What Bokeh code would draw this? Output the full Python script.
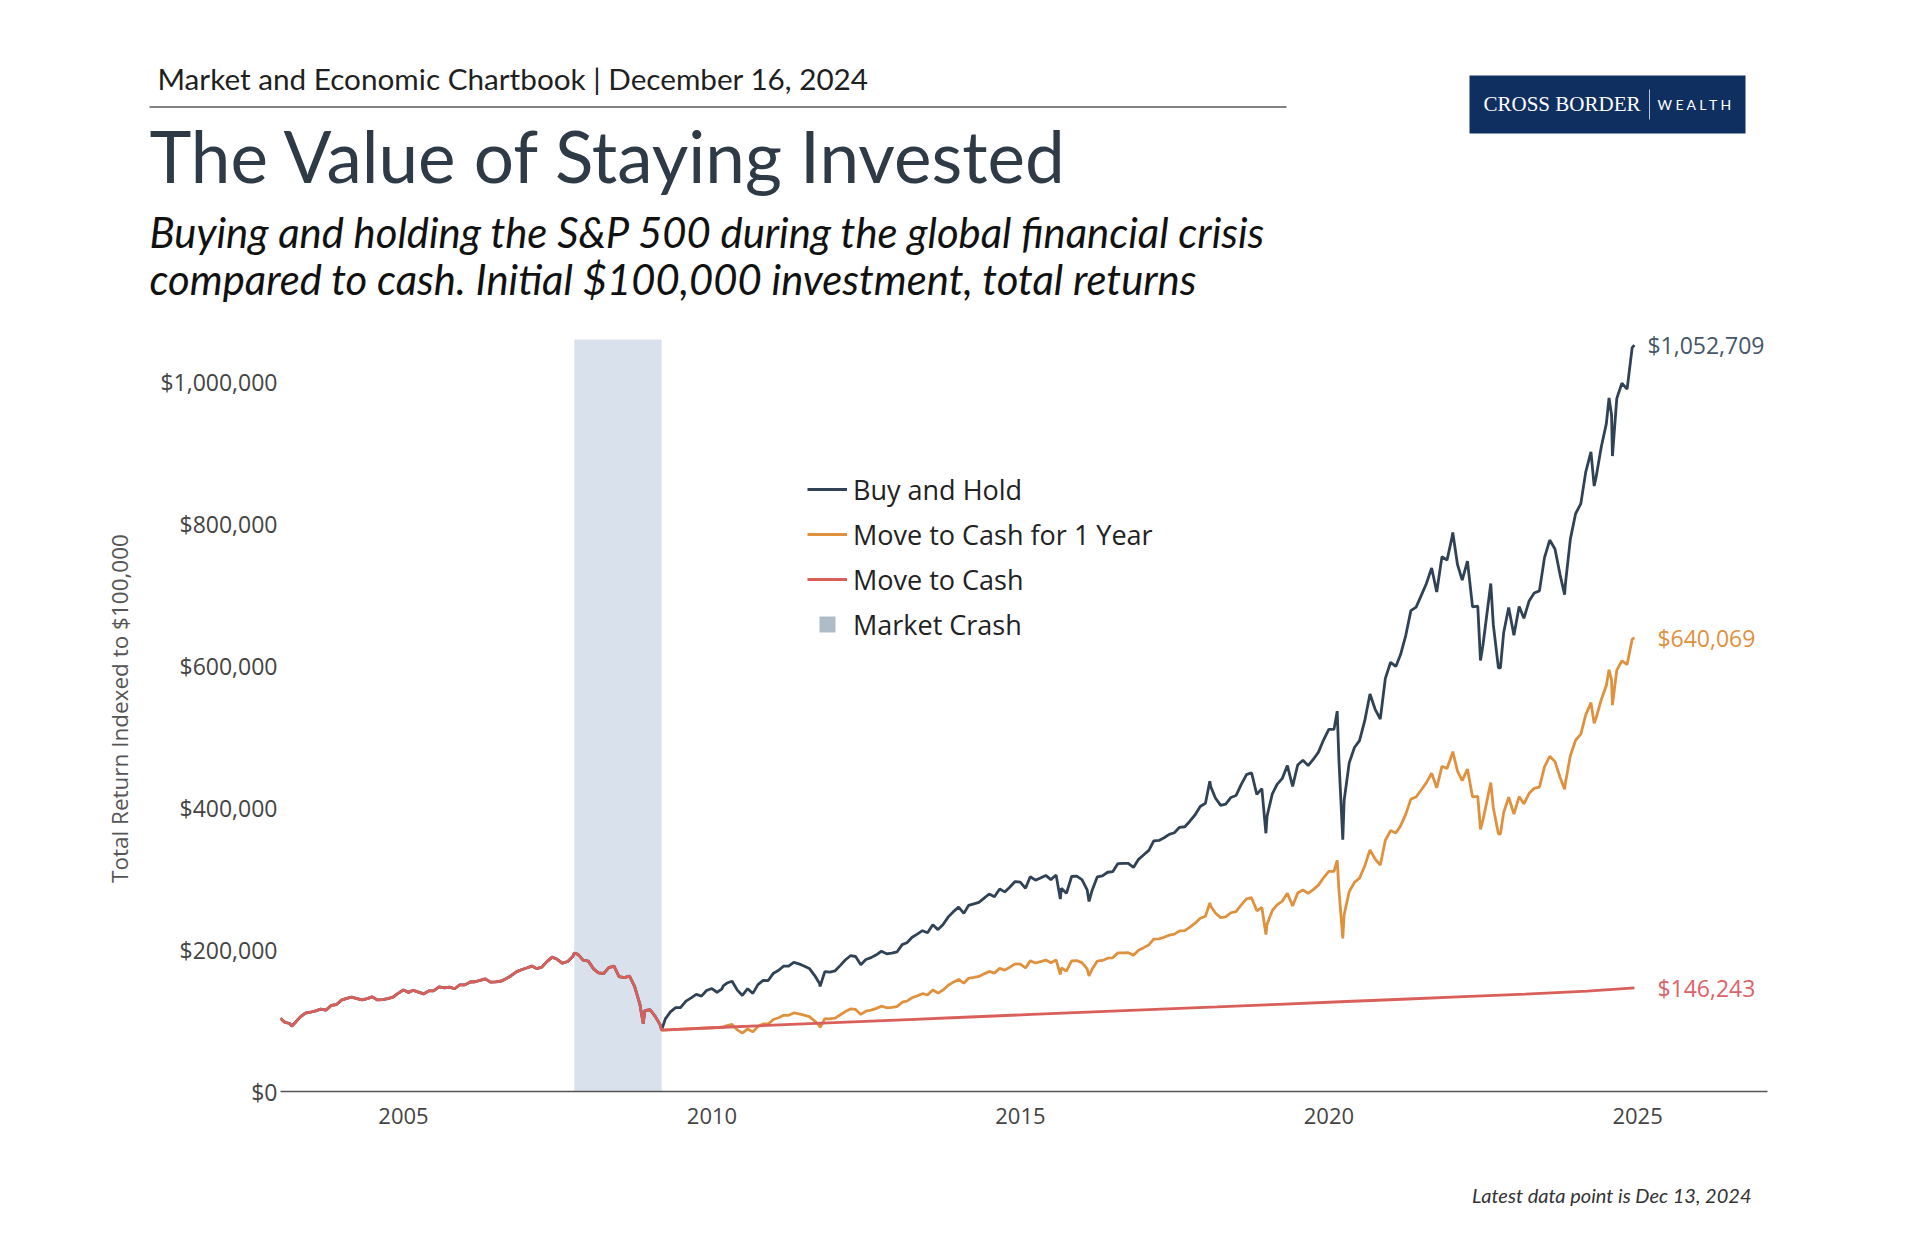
import pandas as pd
from bokeh.plotting import figure
from bokeh.layouts import column
from bokeh.models import (Range1d, FixedTicker, DatetimeTickFormatter, BoxAnnotation,
                          Legend, LegendItem, ColumnDataSource, LabelSet)
from bokeh.core.properties import value
from bokeh.embed import file_html
from bokeh.resources import INLINE

# ---------------- data (values in $ thousands) ----------------
# Buy and Hold: month-end values Jan 2003 .. Nov 2024
buy_hold_monthly = [
    97.4, 95.9, 96.9, 104.9, 110.4, 111.8, 113.8, 116.1, 114.8, 121.4, 122.4, 128.8,   # 2003
    131.3, 133.1, 131.1, 129.1, 130.9, 133.5, 129.1, 129.6, 131.0, 133.1, 138.4, 143.2,  # 2004
    139.8, 142.7, 140.2, 137.6, 141.9, 142.1, 147.5, 146.0, 147.3, 144.9, 150.3, 150.4,  # 2005
    154.4, 154.8, 156.7, 158.9, 154.2, 154.5, 155.5, 159.1, 163.3, 168.7, 171.7, 174.2,  # 2006
    176.9, 173.3, 175.4, 183.2, 189.5, 186.4, 180.8, 183.4, 190.3, 193.4, 185.2, 183.9,  # 2007
    172.9, 167.2, 166.4, 174.6, 176.8, 161.9, 160.5, 162.7, 148.2, 123.3, 114.2, 115.3,  # 2008
    105.6, 94.2, 102.4, 112.2, 118.3, 118.5, 127.5, 132.0, 136.9, 134.5, 142.4, 145.2,   # 2009
    140.0, 144.3, 153.0, 155.5, 143.0, 135.5, 145.0, 138.4, 150.7, 156.6, 156.5, 166.9,  # 2010
    171.0, 176.7, 176.8, 182.2, 180.0, 177.0, 173.5, 163.9, 152.4, 169.1, 168.5, 170.2,  # 2011
    177.9, 185.4, 191.5, 190.4, 178.8, 186.2, 188.8, 192.8, 197.8, 194.2, 195.1, 196.8,  # 2012
    207.1, 209.7, 217.6, 221.9, 226.8, 223.8, 235.3, 228.3, 235.4, 246.3, 253.6, 260.0,  # 2013
    251.2, 262.5, 264.7, 266.8, 272.8, 278.5, 274.7, 285.5, 281.5, 288.5, 296.1, 295.3,  # 2014
    286.6, 302.9, 298.1, 301.1, 304.8, 298.8, 305.3, 286.6, 279.5, 303.2, 303.8, 298.9,  # 2015
    284.2, 283.5, 302.7, 304.0, 309.2, 310.0, 321.5, 321.7, 321.8, 316.0, 327.4, 333.8,  # 2016
    340.4, 353.6, 354.1, 357.9, 362.6, 364.9, 372.6, 373.4, 381.2, 390.3, 401.9, 406.5,  # 2017
    430.1, 414.0, 403.5, 405.3, 414.7, 417.4, 433.1, 446.9, 449.6, 419.0, 427.2, 388.6,  # 2018
    419.9, 433.1, 441.6, 459.7, 430.2, 460.5, 467.3, 459.6, 468.3, 478.6, 495.7, 510.7,  # 2019
    510.7, 468.5, 410.5, 463.4, 485.1, 494.9, 523.0, 560.5, 539.4, 525.3, 582.7, 605.3,  # 2020
    599.5, 616.2, 643.4, 678.2, 683.1, 699.4, 716.4, 738.4, 704.4, 754.3, 749.3, 783.2,  # 2021
    743.2, 721.1, 748.1, 683.4, 684.5, 628.1, 686.5, 658.4, 597.9, 646.6, 682.5, 643.3,  # 2022
    684.1, 667.3, 691.8, 703.1, 706.0, 752.9, 777.7, 765.1, 729.0, 714.1, 779.0, 814.8,  # 2023
    829.1, 873.5, 902.0, 865.8, 908.9, 941.9, 954.1, 977.5, 998.8, 990.5, 1049.0,        # 2024
]
buy_hold_extra_dates = ["2003-01-02", "2003-03-11", "2007-10-09", "2008-11-20", "2009-03-09",
                        "2010-03-09", "2011-10-03", "2015-08-25", "2016-02-11", "2018-01-26",
                        "2018-12-24", "2020-02-19", "2020-03-23", "2022-01-03", "2022-06-16",
                        "2022-08-16", "2022-10-12", "2023-10-27", "2024-04-19", "2024-07-16",
                        "2024-08-05", "2024-12-13"]
buy_hold_extra_values = [103.3, 92.0, 195.1, 95.9, 86.7,
                         149.0, 148.2, 271.4, 268.1, 437.5,
                         364.2, 536.4, 355.1, 788.3, 607.9,
                         716.4, 597.0, 700.8, 853.9, 978.2,
                         896.2, 1052.709]

# Move to Cash for 1 Year: month-end values Mar 2010 .. Nov 2024 (after re-entering the market)
one_year_monthly = [
    93.0, 94.5, 86.9, 82.4, 88.2, 84.1, 91.6, 95.2, 95.2, 101.5,                          # 2010
    104.0, 107.4, 107.5, 110.8, 109.4, 107.6, 105.5, 99.7, 92.7, 102.8, 102.4, 103.5,     # 2011
    108.2, 112.7, 116.4, 115.8, 108.7, 113.2, 114.8, 117.2, 120.3, 118.1, 118.6, 119.7,   # 2012
    125.9, 127.5, 132.3, 134.9, 137.9, 136.1, 143.1, 138.8, 143.1, 149.8, 154.2, 158.1,   # 2013
    152.7, 159.6, 160.9, 162.2, 165.9, 169.3, 167.0, 173.6, 171.2, 175.4, 180.0, 179.5,   # 2014
    174.3, 184.2, 181.2, 183.1, 185.3, 181.7, 185.6, 174.3, 169.9, 184.3, 184.7, 181.7,   # 2015
    172.8, 172.4, 184.0, 184.8, 188.0, 188.5, 195.5, 195.6, 195.7, 192.1, 199.1, 202.9,   # 2016
    207.0, 215.0, 215.3, 217.6, 220.5, 221.9, 226.5, 227.0, 231.8, 237.3, 244.4, 247.2,   # 2017
    261.5, 251.7, 245.3, 246.4, 252.1, 253.8, 263.3, 271.7, 273.4, 254.8, 259.7, 236.3,   # 2018
    255.3, 263.3, 268.5, 279.5, 261.6, 280.0, 284.1, 279.4, 284.7, 291.0, 301.4, 310.5,   # 2019
    310.5, 284.8, 249.6, 281.7, 294.9, 300.9, 318.0, 340.8, 328.0, 319.4, 354.3, 368.0,   # 2020
    364.5, 374.6, 391.2, 412.3, 415.3, 425.2, 435.6, 448.9, 428.3, 458.6, 455.6, 476.2,   # 2021
    451.9, 438.4, 454.8, 415.5, 416.2, 381.9, 417.4, 400.3, 363.5, 393.1, 415.0, 391.1,   # 2022
    415.9, 405.7, 420.6, 427.5, 429.2, 457.8, 472.8, 465.2, 443.2, 434.2, 473.6, 495.4,   # 2023
    504.1, 531.1, 548.4, 526.4, 552.6, 572.7, 580.1, 594.3, 607.3, 602.2, 637.8,          # 2024
]
one_year_extra_dates = ["2011-10-03", "2015-08-25", "2016-02-11", "2018-01-26", "2018-12-24",
                        "2020-02-19", "2020-03-23", "2022-01-03", "2022-06-16", "2022-08-16",
                        "2022-10-12", "2023-10-27", "2024-04-19", "2024-07-16", "2024-08-05",
                        "2024-12-13"]
one_year_extra_values = [90.1, 165.0, 163.0, 266.0, 221.4,
                         326.1, 215.9, 479.3, 369.6, 435.6,
                         363.0, 426.1, 519.2, 594.7, 544.9,
                         640.069]

# Move to Cash: cash value after selling at the bottom
cash_dates = ["2009-03-09", "2010-03-09", "2011-03-09", "2012-03-09", "2013-03-09", "2014-03-09",
              "2015-03-09", "2016-03-09", "2017-03-09", "2018-03-09", "2019-03-09", "2020-03-09",
              "2021-03-09", "2022-03-09", "2023-03-09", "2024-03-09", "2024-12-13"]
cash_values = [86.7, 90.6, 94.2, 97.9, 101.5, 105.1,
               108.7, 112.3, 115.9, 119.4, 123.0, 126.6,
               130.1, 133.7, 137.4, 141.6, 146.243]

crash_start = "2007-10-09"
crash_end = "2009-03-09"

series_names = ["Buy and Hold", "Move to Cash for 1 Year", "Move to Cash", "Market Crash"]
series_colors = ["#2f4256", "#e0913e", "#d95f5b", "#aebcc8"]
label_colors = ["#44566a", "#e0913e", "#dc6468"]

y_ticks = [0, 200, 400, 600, 800, 1000]
y_tick_labels = ["$0", "$200,000", "$400,000", "$600,000", "$800,000", "$1,000,000"]
x_tick_years = [2005, 2010, 2015, 2020, 2025]

header_text = "Market and Economic Chartbook | December 16, 2024"
title_text = "The Value of Staying Invested"
subtitle_lines = ["Buying and holding the S&P 500 during the global financial crisis",
                  "compared to cash. Initial $100,000 investment, total returns"]
footer_text = "Latest data point is Dec 13, 2024"
y_axis_title = "Total Return Indexed to $100,000"
logo_left = "CROSS BORDER"
logo_right = "W E A L T H"


# ---------------- build series ----------------
def month_ends(start, end):
    return list(pd.date_range(start, end, freq="MS") + pd.offsets.MonthEnd(0))


def build(dates, vals, extra_dates, extra_vals):
    df = pd.DataFrame({"date": list(dates) + list(pd.to_datetime(extra_dates)),
                       "value": list(vals) + list(extra_vals)})
    return df.sort_values("date").reset_index(drop=True)


bh = build(month_ends("2003-01-01", "2024-11-01"), buy_hold_monthly,
           buy_hold_extra_dates, buy_hold_extra_values)
cash = pd.DataFrame({"date": pd.to_datetime(cash_dates), "value": cash_values})
oy_tail = build(month_ends("2010-03-01", "2024-11-01"), one_year_monthly,
                one_year_extra_dates, one_year_extra_values)
one_year = pd.concat([cash.iloc[:2], oy_tail]).sort_values("date").reset_index(drop=True)
red = pd.concat([bh[bh["date"] <= pd.Timestamp(crash_end)], cash.iloc[1:]]).reset_index(drop=True)

FONT = "Open Sans"
HFONT = "Lato"

HEAD_H = 325      # header strip height (page px)
FOOT_H = 100      # footer strip height
MAIN_H = 1240 - HEAD_H - FOOT_H


def strip(height):
    s = figure(width=1920, height=height, x_range=Range1d(0, 1920), y_range=Range1d(height, 0),
               output_backend="svg", toolbar_location=None, min_border=0)
    s.axis.visible = False
    s.grid.visible = False
    s.outline_line_color = None
    s.background_fill_color = "white"
    s.border_fill_color = "white"
    try:
        s.frame_align = False
    except Exception:
        pass
    return s


# ---------------- header (page pixel coordinates) ----------------
h = strip(HEAD_H)
h.text(x=[157], y=[78], text=[header_text], text_font=value(HFONT), text_font_size="29.7px",
       text_color="#1f1f1f", text_baseline="alphabetic")
h.segment(x0=[149], y0=[106.5], x1=[1286], y1=[106.5], line_color="#5a5a5a", line_width=1.5)
h.text(x=[149], y=[155], text=[title_text], text_font=value(HFONT), text_font_size="71px",
       text_color="#2e3b47", text_baseline="alphabetic")
h.text(x=[149, 149], y=[231, 278], text=subtitle_lines, text_font=value(HFONT),
       text_font_style="italic", text_font_size="41.8px", text_color="#111111",
       text_baseline="alphabetic")
h.quad(left=[1469], right=[1745], top=[75], bottom=[133], fill_color="#0f2f60", line_color=None)
h.text(x=[1483], y=[103], text=[logo_left], text_font=value("Liberation Serif"),
       text_font_size="21px", text_color="white", text_baseline="alphabetic")
h.segment(x0=[1649], y0=[89], x1=[1649], y1=[119], line_color="#b8c4d4", line_width=1)
h.text(x=[1657], y=[104], text=[logo_right], text_font=value(HFONT), text_font_size="14px",
       text_color="white", text_baseline="alphabetic")

# ---------------- main chart (frame: x 280..1767, y 325..1091 in page px) ----------------
Y_TOP = 1080.3      # value at the top of the frame
BAND_TOP = 1060.6   # crash band reaches up to here
p = figure(width=1920, height=MAIN_H, x_axis_type="datetime",
           x_range=Range1d(pd.Timestamp("2003-01-04"), pd.Timestamp("2027-02-09")),
           y_range=Range1d(0, Y_TOP),
           output_backend="svg", toolbar_location=None,
           min_border_left=280, min_border_right=153,
           min_border_top=0, min_border_bottom=1140 - 1091)
p.outline_line_color = None
p.grid.visible = False
p.background_fill_color = "white"
p.border_fill_color = "white"
try:
    p.frame_align = False
except Exception:
    pass

band = BoxAnnotation(left=pd.Timestamp(crash_start).value // 10**6,
                     right=pd.Timestamp(crash_end).value // 10**6,
                     bottom=0, top=BAND_TOP,
                     fill_color="#b3c6da", fill_alpha=0.5, line_color=None, level="underlay")
p.add_layout(band)

LW = 2.8
r_bh = p.line(bh["date"], bh["value"], line_color=series_colors[0], line_width=LW)
r_oy = p.line(one_year["date"], one_year["value"], line_color=series_colors[1], line_width=LW)
r_red = p.line(red["date"], red["value"], line_color=series_colors[2], line_width=LW)
r_crash = p.scatter(x=[pd.Timestamp(crash_start)], y=[float("nan")], marker="square", size=16,
                    fill_color=series_colors[3], line_color=None)

# end labels
ends = [bh.iloc[-1], one_year.iloc[-1], red.iloc[-1]]
end_src = ColumnDataSource(dict(
    x=[e["date"] for e in ends],
    y=[e["value"] for e in ends],
    text=["${:,.0f}".format(e["value"] * 1000) for e in ends],
    color=label_colors,
    xoff=[13, 23, 23],
))
p.add_layout(LabelSet(x="x", y="y", text="text", source=end_src, text_color="color",
                      x_offset="xoff", text_baseline="middle", text_font=value(FONT),
                      text_font_size="23px"))

# axes
p.xaxis.ticker = FixedTicker(ticks=[pd.Timestamp(f"{y}-01-01").value // 10**6 for y in x_tick_years])
p.xaxis.formatter = DatetimeTickFormatter(years="%Y", months="%Y", days="%Y", hours="%Y")
p.xaxis.axis_line_color = "#555555"
p.xaxis.axis_line_width = 1.5
p.xaxis.major_tick_line_color = None
p.xaxis.minor_tick_line_color = None
p.xaxis.major_tick_out = 0
p.xaxis.major_label_standoff = 16
p.xaxis.major_label_text_font = FONT
p.xaxis.major_label_text_font_size = "22px"
p.xaxis.major_label_text_color = "#444444"

p.yaxis.ticker = FixedTicker(ticks=y_ticks)
p.yaxis.major_label_overrides = {t: l for t, l in zip(y_ticks, y_tick_labels)}
p.yaxis.axis_line_color = None
p.yaxis.major_tick_line_color = None
p.yaxis.minor_tick_line_color = None
p.yaxis.major_tick_out = 0
p.yaxis.major_label_standoff = 3
p.yaxis.major_label_text_font = FONT
p.yaxis.major_label_text_font_size = "23px"
p.yaxis.major_label_text_color = "#444444"
p.yaxis.axis_label = y_axis_title
p.yaxis.axis_label_text_font = FONT
p.yaxis.axis_label_text_font_style = "normal"
p.yaxis.axis_label_text_font_size = "22.5px"
p.yaxis.axis_label_text_color = "#555555"
p.yaxis.axis_label_standoff = 22

legend = Legend(items=[LegendItem(label=series_names[0], renderers=[r_bh]),
                       LegendItem(label=series_names[1], renderers=[r_oy]),
                       LegendItem(label=series_names[2], renderers=[r_red]),
                       LegendItem(label=series_names[3], renderers=[r_crash])],
                location=(527, 446))
legend.border_line_color = None
legend.background_fill_alpha = 0
legend.padding = 0
legend.margin = 0
legend.spacing = 3
legend.glyph_width = 40
legend.glyph_height = 42
legend.label_height = 42
legend.label_standoff = 6
legend.label_text_font = FONT
legend.label_text_font_size = "27px"
legend.label_text_color = "#222222"
p.add_layout(legend)

# ---------------- footer ----------------
f = strip(FOOT_H)
f.text(x=[1751], y=[54], text=[footer_text], text_font=value(HFONT),
       text_font_style="italic", text_font_size="20px", text_color="#333333",
       text_align="right", text_baseline="alphabetic")

layout = column(h, p, f, spacing=0)
open("out.html", "w").write(file_html(layout, INLINE))
